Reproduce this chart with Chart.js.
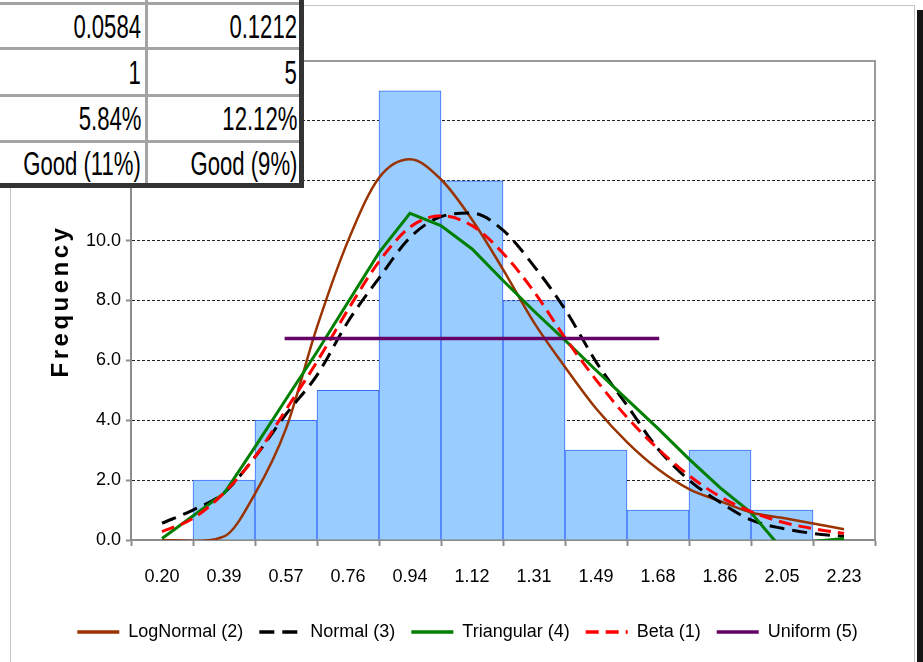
<!DOCTYPE html>
<html>
<head>
<meta charset="utf-8">
<script src="https://cdn.jsdelivr.net/npm/chart.js@4.4.1/dist/chart.umd.min.js"></script>
<style>
  html, body { margin: 0; padding: 0; background: #fff; }
  #wrap { position: relative; width: 923px; height: 662px; overflow: hidden; font-family: "Liberation Sans", Arial, sans-serif; }
  #frame { position: absolute; left: 10px; top: 5px; width: 905px; height: 680px; border: 1px solid #c4c4c4; box-sizing: border-box; }
  #shadow { position: absolute; left: 917px; top: 10px; width: 6px; height: 660px; background: #141414; }
  #chartBox { position: absolute; left: 0; top: 0; width: 923px; height: 662px; }
  #stats { position: absolute; left: 0; top: 0; width: 304px; height: 188px; background: #fff;
           border-right: 5px solid #333; border-bottom: 5px solid #333; box-sizing: border-box; }
  .hline { position: absolute; left: 0; width: 299px; height: 3px; background: #a4a4a4; }
  .vline { position: absolute; top: 0; width: 3px; height: 183px; background: #a4a4a4; }
  .cell { position: absolute; height: 40px; line-height: 40px; font-size: 34px; white-space: nowrap;
          color: #000; transform: scaleX(0.65); transform-origin: right center; }
</style>
</head>
<body>
<div id="wrap">
  <div id="frame"></div>
  <div id="shadow"></div>
  <div id="chartBox"><canvas id="histChart"></canvas></div>
  <div id="stats"></div>
</div>
<script>
// histogram bins
const binLabels = ['0.20', '0.39', '0.57', '0.76', '0.94', '1.12', '1.31', '1.49', '1.68', '1.86', '2.05', '2.23'];
const frequency = [0, 2, 4, 5, 15, 12, 8, 3, 1, 3, 1, 0];

// fitted curves, sampled every half bin
const curveX = [0.200, 0.292, 0.385, 0.477, 0.569, 0.661, 0.754, 0.846, 0.938, 1.030, 1.123, 1.215,
                1.307, 1.400, 1.492, 1.584, 1.676, 1.769, 1.861, 1.953, 2.045, 2.138, 2.230];
const logNormal = [0.0, -0.03, 0.12, 1.55, 3.72, 7.1, 10.0, 12.1, 12.72, 12.05, 10.7, 9.04,
                   7.27, 5.77, 4.39, 3.27, 2.37, 1.7, 1.3, 0.92, 0.74, 0.55, 0.36];
const normal = [0.56, 1.0, 1.58, 2.78, 4.2, 5.5, 7.3, 8.75, 10.1, 10.8, 10.92, 10.35,
                9.15, 7.7, 5.95, 4.5, 3.05, 2.0, 1.26, 0.67, 0.39, 0.22, 0.12];
const triangular = [0.05, 0.8, 1.56, 3.11, 4.7, 6.28, 7.95, 9.6, 10.91, 10.5, 9.72, 8.67,
                    7.65, 6.67, 5.67, 4.7, 3.73, 2.7, 1.75, 0.92, -0.3, -0.05, 0.05];
const beta = [0.28, 0.72, 1.58, 2.78, 4.35, 5.95, 7.7, 9.3, 10.45, 10.83, 10.5, 9.58,
              8.3, 6.75, 5.35, 4.1, 3.05, 2.15, 1.45, 0.95, 0.6, 0.38, 0.22];
const uniformX = [0.565, 1.68];
const uniform = [6.73, 6.73];

// goodness-of-fit table (partly visible)
const statsCol1 = ['0.0584', '1', '5.84%', 'Good (11%)'];
const statsCol2 = ['0.1212', '5', '12.12%', 'Good (9%)'];

const yAxisTitle = 'Frequency';

// build the table overlay
const stats = document.getElementById('stats');
const rowLines = [2, 47, 94, 140];
const rowMid = [26, 72, 118, 163];
rowLines.forEach(y => {
  const d = document.createElement('div');
  d.className = 'hline';
  d.style.top = y + 'px';
  stats.appendChild(d);
});
const vl = document.createElement('div');
vl.className = 'vline';
vl.style.left = '145px';
stats.appendChild(vl);
[[statsCol1, 141], [statsCol2, 297]].forEach(([col, rightEdge]) => {
  col.forEach((txt, i) => {
    const c = document.createElement('div');
    c.className = 'cell';
    c.textContent = txt;
    c.style.right = (299 - rightEdge) + 'px';
    c.style.top = (rowMid[i] - 20) + 'px';
    stats.appendChild(c);
  });
});

const pts = (xs, ys) => xs.map((x, i) => ({ x: x, y: ys[i] }));

const first = parseFloat(binLabels[0]);
const last = parseFloat(binLabels[binLabels.length - 1]);
const step = (last - first) / (binLabels.length - 1);

Chart.defaults.font.family = '"Liberation Sans", Arial, sans-serif';
Chart.defaults.color = '#000';

// y axis title with letter spacing
const yTitlePlugin = {
  id: 'yTitle',
  afterDraw(chart) {
    const ctx = chart.ctx;
    ctx.save();
    ctx.translate(61, 301);
    ctx.rotate(-Math.PI / 2);
    ctx.font = 'bold 24px "Liberation Sans", Arial, sans-serif';
    ctx.letterSpacing = '3.5px';
    ctx.textAlign = 'center';
    ctx.fillStyle = '#000';
    ctx.fillText(yAxisTitle, 0, 0);
    ctx.restore();
  }
};

// plot area frame (top and right)
const framePlugin = {
  id: 'plotFrame',
  beforeDatasetsDraw(chart) {
    const { ctx, chartArea: a } = chart;
    ctx.save();
    ctx.strokeStyle = '#9a9a9a';
    ctx.lineWidth = 2;
    ctx.beginPath();
    ctx.moveTo(a.left, a.top);
    ctx.lineTo(a.right, a.top);
    ctx.lineTo(a.right, a.bottom);
    ctx.stroke();
    ctx.restore();
  }
};

const lineBase = { type: 'line', xAxisID: 'xc', yAxisID: 'y', pointRadius: 0, fill: false };

new Chart(document.getElementById('histChart'), {
  type: 'bar',
  data: {
    labels: binLabels,
    datasets: [
      {
        label: 'Frequency',
        data: frequency,
        backgroundColor: '#99CCFF',
        borderColor: '#3a6cff',
        borderWidth: 1,
        barPercentage: 1,
        categoryPercentage: 1,
        grouped: false,
        xAxisID: 'x',
        order: 10,
      },
      Object.assign({}, lineBase, {
        label: 'LogNormal (2)', data: pts(curveX, logNormal),
        borderColor: '#993300', borderWidth: 2.5, cubicInterpolationMode: 'monotone', order: 5,
      }),
      Object.assign({}, lineBase, {
        label: 'Normal (3)', data: pts(curveX, normal),
        borderColor: '#000000', borderWidth: 3, borderDash: [15, 8], cubicInterpolationMode: 'monotone', order: 4,
      }),
      Object.assign({}, lineBase, {
        label: 'Triangular (4)', data: pts(curveX, triangular),
        borderColor: '#008000', borderWidth: 3, tension: 0, order: 3,
      }),
      Object.assign({}, lineBase, {
        label: 'Beta (1)', data: pts(curveX, beta),
        borderColor: '#FF0000', borderWidth: 3, borderDash: [13, 7], cubicInterpolationMode: 'monotone', order: 2,
      }),
      Object.assign({}, lineBase, {
        label: 'Uniform (5)', data: pts(uniformX, uniform),
        borderColor: '#660066', borderWidth: 3.5, order: 1,
      }),
    ],
  },
  options: {
    responsive: true,
    maintainAspectRatio: false,
    devicePixelRatio: 1,
    animation: false,
    layout: { padding: { top: 61, left: 60, right: 48, bottom: 11 } },
    scales: {
      x: {
        type: 'category',
        offset: true,
        grid: { display: true, drawOnChartArea: false, offset: true, tickLength: 6, tickColor: '#8c8c8c', tickWidth: 2 },
        border: { color: '#8c8c8c', width: 2 },
        ticks: { font: { size: 18 }, color: '#000', padding: 20, maxRotation: 0, autoSkip: false },
        afterFit: (s) => { s.height = 67; },
      },
      xc: {
        type: 'linear',
        display: false,
        offset: false,
        grid: { offset: false },
        min: first - step / 2,
        max: last + step / 2,
      },
      y: {
        min: 0,
        max: 16,
        ticks: { stepSize: 2, font: { size: 18 }, color: '#000', padding: 5, callback: (v) => v.toFixed(1) },
        grid: {
          color: (c) => (c.tick.value === 0 ? 'rgba(0,0,0,0)' : c.tick.value === 16 ? '#9a9a9a' : '#222'),
          lineWidth: 1,
          borderDash: [3, 2],
          tickLength: 5,
          tickColor: '#8c8c8c',
          tickWidth: 2,
          tickBorderDash: [],
        },
        border: { color: '#8c8c8c', width: 2, dash: [3, 2] },
        afterFit: (s) => { s.width = 71; },
      },
    },
    plugins: {
      tooltip: { enabled: false },
      legend: {
        position: 'bottom',
        labels: {
          filter: (item) => item.datasetIndex > 0,
          sort: (a, b) => a.datasetIndex - b.datasetIndex,
          generateLabels: (chart) =>
            Chart.defaults.plugins.legend.labels.generateLabels(chart).map((item) => {
              const ds = chart.data.datasets[item.datasetIndex];
              item.lineDash = ds.borderDash || [];
              item.strokeStyle = ds.borderColor;
              item.lineWidth = ds.type === 'line' ? 3.5 : 1;
              return item;
            }),
          usePointStyle: true,
          pointStyle: 'line',
          pointStyleWidth: 42,
          padding: 16,
          font: { size: 18 },
          color: '#000',
        },
      },
    },
  },
  plugins: [yTitlePlugin, framePlugin],
});
</script>
</body>
</html>
